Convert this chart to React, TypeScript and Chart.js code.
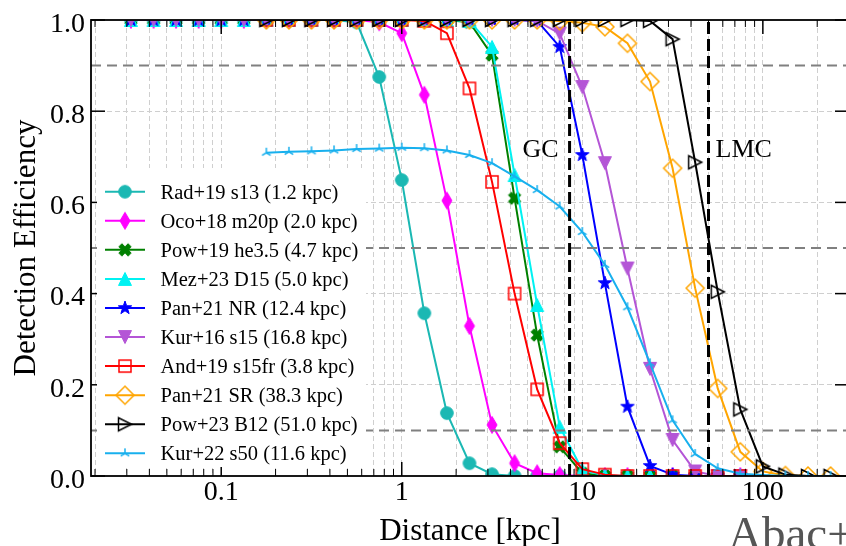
import React, { useEffect, useRef } from 'react';
import { Chart, registerables } from 'chart.js';

Chart.register(...registerables);

const FONT = "'Liberation Serif', 'Times New Roman', Times, serif";

// Distances (kpc) at which the detection-efficiency curves are sampled
const DISTANCE_KPC = [
  0.0316, 0.0422, 0.0562, 0.075, 0.1, 0.1334, 0.1778, 0.2371, 0.3162, 0.4217,
  0.5623, 0.7499, 1.0, 1.3335, 1.7783, 2.3714, 3.1623, 4.217, 5.6234, 7.4989,
  10.0, 13.335, 17.783, 23.714, 31.623, 42.17, 56.234, 74.989, 100.0, 133.35,
  177.83, 237.14,
];

// Efficiency values (start index into DISTANCE_KPC given in SERIES_START)
const RAD19_S13 = [1, 1, 1, 1, 1, 1, 1, 1, 1, 1, 0.995, 0.875, 0.649, 0.357, 0.138, 0.028, 0.004, 0, 0, 0, 0, 0, 0, 0, 0, 0, 0, 0];
const OCO18_M20P = [1, 1, 1, 1, 1, 1, 1, 1, 1, 1, 1, 0.995, 0.971, 0.836, 0.604, 0.329, 0.112, 0.028, 0.006, 0.002, 0, 0, 0, 0, 0, 0, 0, 0];
const POW19_HE35 = [1, 1, 1, 1, 1, 1, 1, 1, 1, 1, 1, 1, 1, 1, 1, 0.995, 0.923, 0.609, 0.309, 0.064, 0.006, 0, 0, 0, 0, 0, 0, 0];
const MEZ23_D15 = [1, 1, 1, 1, 1, 1, 1, 1, 1, 1, 1, 1, 1, 1, 1, 0.998, 0.941, 0.66, 0.375, 0.108, 0.013, 0.001, 0, 0, 0, 0, 0, 0];
const PAN21_NR = [1, 1, 1, 1, 1, 1, 1, 1, 1, 1, 1, 1, 1, 1, 1, 1, 1, 1, 0.998, 0.941, 0.704, 0.423, 0.152, 0.022, 0.003, 0, 0, 0];
const KUR16_S15 = [1, 1, 1, 1, 1, 1, 1, 1, 1, 1, 1, 1, 1, 1, 1, 1, 1, 1, 0.998, 0.97, 0.853, 0.686, 0.455, 0.235, 0.079, 0.01, 0, 0];
const AND19_S15FR = [1, 1, 1, 1, 1, 1, 1, 0.998, 0.971, 0.85, 0.645, 0.4, 0.19, 0.072, 0.015, 0.003, 0, 0, 0, 0, 0, 0];
const PAN21_SR = [1, 1, 1, 1, 1, 1, 1, 1, 1, 1, 1, 1, 1, 0.998, 0.994, 0.985, 0.949, 0.865, 0.675, 0.412, 0.192, 0.053, 0.01, 0.001, 0, 0];
const POW23_B12 = [1, 1, 1, 1, 1, 1, 1, 1, 1, 1, 1, 1, 1, 1, 1, 1, 1, 0.998, 0.958, 0.688, 0.404, 0.146, 0.021, 0.003, 0, 0];
const KUR22_S50 = [0.709, 0.711, 0.712, 0.714, 0.717, 0.718, 0.72, 0.719, 0.714, 0.704, 0.686, 0.657, 0.627, 0.591, 0.535, 0.463, 0.37, 0.247, 0.122, 0.048, 0.017, 0.005, 0.002, 0, 0, 0];

const SERIES_VALUES = [RAD19_S13, OCO18_M20P, POW19_HE35, MEZ23_D15, PAN21_NR, KUR16_S15, AND19_S15FR, PAN21_SR, POW23_B12, KUR22_S50];
const SERIES_START = [0, 0, 0, 0, 0, 0, 6, 6, 6, 6];
const SERIES_LABELS = [
  'Rad+19 s13 (1.2 kpc)',
  'Oco+18 m20p (2.0 kpc)',
  'Pow+19 he3.5 (4.7 kpc)',
  'Mez+23 D15 (5.0 kpc)',
  'Pan+21 NR (12.4 kpc)',
  'Kur+16 s15 (16.8 kpc)',
  'And+19 s15fr (3.8 kpc)',
  'Pan+21 SR (38.3 kpc)',
  'Pow+23 B12 (51.0 kpc)',
  'Kur+22 s50 (11.6 kpc)',
];
const SERIES_COLORS = ['#1bb8b3', '#ff00ff', '#008000', '#00f2f2', '#0000ff', '#b455d6', '#ff0000', '#ffa500', '#000000', '#18b0ee'];
const SERIES_MARKERS = ['circle', 'thinDiamond', 'xFilled', 'triUp', 'star', 'triDown', 'square', 'diamond', 'triRight', 'tri'];

// Reference lines
const H_LINES = [0.9, 0.5, 0.1];
const GC_KPC = 8.5;
const LMC_KPC = 50;
const REF_LABEL_Y = 0.7;

// Axes
const X_MIN = 0.019;
const X_MAX = 300;
const X_MAJOR_TICKS = [0.1, 1, 10, 100];
const X_TICK_LABELS = ['0.1', '1', '10', '100'];
const Y_TICKS = [0, 0.2, 0.4, 0.6, 0.8, 1.0];

function buildXTicks(): number[] {
  const out: number[] = [];
  [0.01, 0.1, 1, 10, 100].forEach((d) => {
    for (let m = 1; m <= 9; m++) {
      const v = +(d * m).toPrecision(6);
      if (v >= X_MIN && v < X_MAX * 0.99) out.push(v);
    }
  });
  return out;
}
const isMajorX = (v: number) => X_MAJOR_TICKS.some((m) => Math.abs(v - m) / m < 1e-6);

function makeMarker(kind: string, color: string): HTMLCanvasElement {
  const size = 22;
  const c = document.createElement('canvas');
  c.width = size;
  c.height = size;
  const g = c.getContext('2d') as CanvasRenderingContext2D;
  g.translate(size / 2, size / 2);
  g.fillStyle = color;
  g.strokeStyle = color;
  g.lineWidth = 1.5;
  const poly = (pts: number[][]) => {
    g.beginPath();
    pts.forEach(([px, py], i) => (i ? g.lineTo(px, py) : g.moveTo(px, py)));
    g.closePath();
  };
  const fillEdge = () => {
    g.fill();
    g.lineWidth = 1;
    g.stroke();
  };
  switch (kind) {
    case 'circle':
      g.beginPath();
      g.arc(0, 0, 6.3, 0, Math.PI * 2);
      fillEdge();
      break;
    case 'thinDiamond':
      poly([[0, -8.5], [5, 0], [0, 8.5], [-5, 0]]);
      fillEdge();
      break;
    case 'xFilled': {
      const s = 3.1;
      poly([[-1, -2], [0, -1], [1, -2], [2, -1], [1, 0], [2, 1], [1, 2], [0, 1], [-1, 2], [-2, 1], [-1, 0], [-2, -1]].map(([a, b]) => [a * s, b * s]));
      fillEdge();
      break;
    }
    case 'triUp':
      poly([[0, -6.5], [6.5, 6.5], [-6.5, 6.5]]);
      fillEdge();
      break;
    case 'triDown':
      poly([[0, 6.5], [6.5, -6.5], [-6.5, -6.5]]);
      fillEdge();
      break;
    case 'star': {
      const pts: number[][] = [];
      for (let i = 0; i < 10; i++) {
        const r = i % 2 === 0 ? 7 : 2.8;
        const ang = -Math.PI / 2 + (i * Math.PI) / 5;
        pts.push([r * Math.cos(ang), r * Math.sin(ang)]);
      }
      poly(pts);
      fillEdge();
      break;
    }
    case 'square':
      g.strokeRect(-6, -6, 12, 12);
      break;
    case 'diamond':
      poly([[0, -9], [9, 0], [0, 9], [-9, 0]]);
      g.stroke();
      break;
    case 'triRight':
      poly([[6.5, 0], [-6.5, -6.5], [-6.5, 6.5]]);
      g.stroke();
      break;
    case 'tri':
      g.beginPath();
      g.moveTo(0, 0);
      g.lineTo(0, -5);
      g.moveTo(0, 0);
      g.lineTo(4.3, 2.6);
      g.moveTo(0, 0);
      g.lineTo(-4.3, 2.6);
      g.stroke();
      break;
  }
  return c;
}

export default function App() {
  const ref = useRef<HTMLCanvasElement>(null);

  useEffect(() => {
    const canvas = ref.current;
    if (!canvas) return;
    const markers = SERIES_MARKERS.map((m, i) => makeMarker(m, SERIES_COLORS[i]));
    const n = SERIES_VALUES.length;

    const datasets = SERIES_VALUES.map((vals, i) => ({
      label: SERIES_LABELS[i],
      data: vals.map((v, j) => ({ x: DISTANCE_KPC[SERIES_START[i] + j], y: v })),
      showLine: true,
      borderColor: SERIES_COLORS[i],
      backgroundColor: SERIES_COLORS[i],
      borderWidth: 2,
      pointStyle: markers[i],
      pointRadius: 6,
      pointHoverRadius: 6,
      tension: 0,
      clip: 0,
      order: n - i,
    }));

    const overlay = {
      id: 'overlay',
      afterDraw(chart: any) {
        const { ctx, chartArea: a } = chart;
        const xs = chart.scales.x;
        const ys = chart.scales.y;
        const line = (x0: number, y0: number, x1: number, y1: number) => {
          ctx.beginPath();
          ctx.moveTo(x0, y0);
          ctx.lineTo(x1, y1);
          ctx.stroke();
        };
        ctx.save();
        ctx.beginPath();
        ctx.rect(a.left, a.top, a.right - a.left, a.bottom - a.top);
        ctx.clip();
        // horizontal reference levels
        ctx.strokeStyle = '#808080';
        ctx.lineWidth = 2;
        ctx.setLineDash([10, 6]);
        H_LINES.forEach((v) => {
          const py = ys.getPixelForValue(v);
          line(a.left, py, a.right, py);
        });
        // GC / LMC lines
        ctx.strokeStyle = '#000';
        ctx.lineWidth = 3;
        ctx.setLineDash([12, 5]);
        [GC_KPC, LMC_KPC].forEach((v) => {
          const px = xs.getPixelForValue(v);
          line(px, a.bottom, px, a.top);
        });
        ctx.restore();

        // GC / LMC labels
        ctx.save();
        ctx.fillStyle = '#000';
        ctx.font = `26px ${FONT}`;
        ctx.textBaseline = 'alphabetic';
        const ly = ys.getPixelForValue(REF_LABEL_Y);
        ctx.textAlign = 'right';
        ctx.fillText('GC', xs.getPixelForValue(GC_KPC) - 11, ly);
        ctx.textAlign = 'left';
        ctx.fillText('LMC', xs.getPixelForValue(LMC_KPC) + 7, ly);
        ctx.restore();

        // spines and inward ticks
        ctx.save();
        ctx.strokeStyle = '#000';
        ctx.setLineDash([]);
        buildXTicks().forEach((v) => {
          const px = xs.getPixelForValue(v);
          const major = isMajorX(v);
          ctx.lineWidth = major ? 1.5 : 1;
          const len = major ? 14 : 7;
          line(px, a.bottom, px, a.bottom - len);
          line(px, a.top, px, a.top + len);
        });
        ctx.lineWidth = 1.5;
        Y_TICKS.forEach((v) => {
          const py = ys.getPixelForValue(v);
          line(a.left, py, a.left + 14, py);
          line(a.right, py, a.right - 14, py);
        });
        ctx.lineWidth = 1.8;
        ctx.strokeRect(a.left, a.top, a.right - a.left, a.bottom - a.top);
        ctx.restore();

        // legend
        ctx.save();
        ctx.fillStyle = '#fff';
        ctx.fillRect(97, 168, 269, 299);
        ctx.font = `20.5px ${FONT}`;
        ctx.textAlign = 'left';
        ctx.textBaseline = 'alphabetic';
        SERIES_LABELS.forEach((lab, i) => {
          const cy = 191.7 + i * 29.07;
          ctx.strokeStyle = SERIES_COLORS[i];
          ctx.lineWidth = 2;
          line(105, cy, 145, cy);
          const m = markers[i];
          ctx.drawImage(m, 125 - m.width / 2, cy - m.height / 2);
          ctx.fillStyle = '#000';
          ctx.fillText(lab, 160.5, cy + 7);
        });
        ctx.restore();

        // axis titles
        ctx.save();
        ctx.fillStyle = '#000';
        ctx.font = `31px ${FONT}`;
        ctx.textAlign = 'center';
        ctx.textBaseline = 'alphabetic';
        ctx.fillText('Distance [kpc]', (a.left + a.right) / 2, 540);
        ctx.translate(35, (a.top + a.bottom) / 2);
        ctx.rotate(-Math.PI / 2);
        ctx.fillText('Detection Efficiency', 0, 0);
        ctx.restore();

        // watermark
        ctx.save();
        ctx.fillStyle = '#555';
        ctx.font = `47px ${FONT}`;
        ctx.textAlign = 'left';
        ctx.textBaseline = 'alphabetic';
        ctx.fillText('Abac+', 728, 549);
        ctx.restore();
      },
    };

    const chart = new Chart(canvas, {
      type: 'scatter',
      data: { datasets } as any,
      options: {
        animation: false,
        responsive: false,
        devicePixelRatio: 1,
        events: [],
        layout: { autoPadding: false, padding: { top: 20, right: 3, left: 0, bottom: 0 } },
        plugins: { legend: { display: false }, tooltip: { enabled: false } },
        scales: {
          x: {
            type: 'logarithmic',
            min: X_MIN,
            max: X_MAX,
            afterBuildTicks: (s: any) => {
              s.ticks = buildXTicks().map((v) => ({ value: v, major: isMajorX(v) }));
            },
            afterFit: (s: any) => {
              s.height = 70;
            },
            ticks: {
              autoSkip: false,
              maxRotation: 0,
              minRotation: 0,
              padding: 0,
              color: '#000',
              font: { family: FONT, size: 28 },
              callback: (v: any) => {
                const idx = X_MAJOR_TICKS.findIndex((m) => Math.abs(+v - m) / m < 1e-6);
                return idx >= 0 ? X_TICK_LABELS[idx] : '';
              },
            },
            grid: { drawTicks: false, color: '#cfcfcf', lineWidth: 1 },
            border: { display: false, dash: [5, 3] },
          },
          y: {
            type: 'linear',
            min: 0,
            max: 1,
            afterBuildTicks: (s: any) => {
              s.ticks = Y_TICKS.map((v) => ({ value: v }));
            },
            afterFit: (s: any) => {
              s.width = 91;
            },
            ticks: {
              padding: 6,
              labelOffset: 4.5,
              color: '#000',
              font: { family: FONT, size: 28, lineHeight: 1 },
              callback: (v: any) => (+v).toFixed(1),
            },
            grid: {
              drawTicks: false,
              lineWidth: 1,
              color: (c: any) => (c.tick && (c.tick.value === 0 || c.tick.value === 1) ? 'rgba(0,0,0,0)' : '#cfcfcf'),
            },
            border: { display: false, dash: [5, 3] },
          },
        },
      } as any,
      plugins: [overlay],
    });
    return () => chart.destroy();
  }, []);

  return (
    <div style={{ position: 'absolute', left: 0, top: 0, width: 846, height: 546, overflow: 'hidden', background: '#fff' }}>
      <canvas ref={ref} width={852} height={546} style={{ display: 'block', width: 852, height: 546 }} />
    </div>
  );
}
